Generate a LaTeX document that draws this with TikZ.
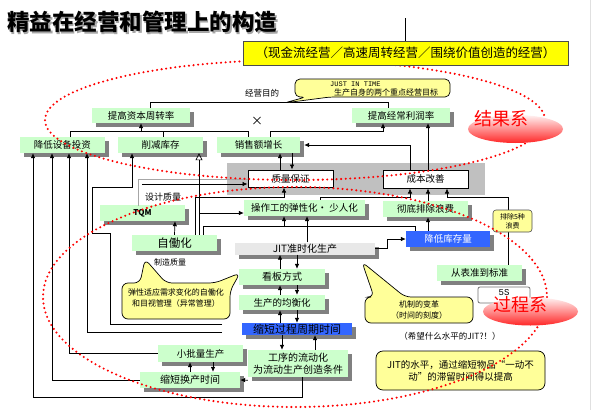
\documentclass[tikz,border=0pt]{standalone}
\usepackage{fontspec}
\setmainfont{Noto Sans CJK SC}
\newfontfamily\monofont{Liberation Mono}
\usetikzlibrary{shadows,arrows.meta,shapes.geometric}
\definecolor{boxgreen}{HTML}{CCFFCC}
\definecolor{shadowgray}{HTML}{808080}
\definecolor{calloutyellow}{HTML}{FFFF99}
\definecolor{topyellow}{HTML}{FFFF00}
\definecolor{jitblue}{HTML}{3366FF}
\definecolor{jitgray}{HTML}{E8E8E8}
\definecolor{bandgray}{HTML}{C0C0C0}
\newcommand\fs[2]{\fontsize{#1}{#2}\selectfont}
\tikzset{
 sh/.style={drop shadow={shadow xshift=4pt,shadow yshift=-4pt,fill=shadowgray,opacity=1}},
 gbox/.style={fill=boxgreen,sh,inner sep=0pt,font=\fs{9.5}{11}},
 bbox/.style={fill=jitblue,sh,inner sep=0pt},
 wbox/.style={draw=black,line width=1pt,fill=white,inner sep=0pt,font=\fs{9.5}{11}},
 arr/.style={-{Latex[length=5pt,width=4.5pt]},line width=0.7pt},
 oarr/.style={-{Triangle[open,length=7pt,width=7pt]},line width=0.7pt},
 ln/.style={line width=0.7pt},
 reddots/.style={red,line width=2.3pt,dash pattern=on 0pt off 4.6pt,line cap=round},
 call/.style={fill=calloutyellow,draw=black,line width=0.7pt,rounded corners=5pt},
 lbl/.style={inner sep=0pt},
}
\begin{document}
\begin{tikzpicture}[x=1pt,y=-1pt]
\useasboundingbox (0,0) rectangle (598,410);
\fill[white] (0,0) rectangle (598,410);
\draw[black!12,line width=0.8pt] (590,0) -- (590,410);

% title
\node[lbl,anchor=west,font=\bfseries\fs{22.5}{24},text=black!35] (titlesh) at (8.5,23.5) {精益在经营和管理上的构造};
\node[lbl,anchor=west,font=\bfseries\fs{22.5}{24}] (title) at (7,22) {精益在经营和管理上的构造};

% gray band
\node[fill=bandgray,minimum width=258pt,minimum height=32pt,inner sep=0pt] (band) at (356,179) {};

% boxes
\node[gbox,minimum width=98pt,minimum height=15pt] (ziben) at (141,115.5) {提高资本周转率};
\node[gbox,minimum width=98pt,minimum height=15pt] (jingchang) at (401,115.5) {提高经常利润率};
\node[gbox,minimum width=85pt,minimum height=16pt] (shebei) at (62.5,145) {降低设备投资};
\node[gbox,minimum width=85pt,minimum height=16pt] (kucun) at (160.5,145) {削减库存};
\node[gbox,minimum width=83pt,minimum height=16pt] (xiaoshou) at (258.5,145) {销售额增长};
\node[wbox,minimum width=85pt,minimum height=17pt] (zhiliang) at (290.5,178.5) {质量保证};
\node[wbox,minimum width=85pt,minimum height=18pt] (chengben) at (425.5,179) {成本改善};
\node[gbox,minimum width=121pt,minimum height=16pt] (caozuo) at (304.5,208) {操作工的弹性化・ 少人化};
\node[gbox,minimum width=85pt,minimum height=16pt] (chedi) at (425.5,209) {彻底排除浪费};
\node[gbox,minimum width=85pt,minimum height=16pt,font=\bfseries\fs{8}{9}] (tqm) at (142.5,213) {TQM};
\node[gbox,minimum width=85pt,minimum height=16pt,font=\fs{11.5}{13}] (zidong) at (174.5,243) {自働化};
\node[fill=jitgray,sh,inner sep=0pt,minimum width=140pt,minimum height=12pt,font=\fs{10}{11}] (jit) at (305,248.5) {JIT准时化生产};
\node[bbox,minimum width=84pt,minimum height=16pt,text=white,font=\fs{9.5}{11}] (jiangdi) at (448,239) {降低库存量};
\node[gbox,minimum width=86pt,minimum height=16pt,font=\fs{10}{11}] (kanban) at (282,277) {看板方式};
\node[gbox,minimum width=86pt,minimum height=15pt,font=\fs{9.5}{11}] (junheng) at (282,302.5) {生产的均衡化};
\node[bbox,minimum width=110pt,minimum height=12pt,font=\fs{11}{12}] (suoduan) at (297,329) {缩短过程周期时间};
\node[gbox,minimum width=100pt,minimum height=27pt,align=center,font=\fs{10}{12}] (gongxu) at (298,363.5) {工序的流动化\\为流动生产创造条件};
\node[gbox,minimum width=85pt,minimum height=17pt,font=\fs{9.5}{11}] (xiaopi) at (200.5,353.5) {小批量生产};
\node[gbox,minimum width=100pt,minimum height=16pt,font=\fs{10}{11}] (huanchan) at (190,380) {缩短换产时间};
\node[gbox,minimum width=85pt,minimum height=16pt] (biaozhun) at (479.5,273) {从表准到标准};
\node[draw=black!55,line width=0.8pt,fill=white,rounded corners=2pt,minimum width=52pt,minimum height=16pt] (fiveSbox) at (504,295) {};
\node[lbl,font=\monofont\fs{9}{10}] (fiveS) at (504,292.5) {5S};

% labels
\node[lbl,font=\fs{8.5}{10}] (jymd) at (262,93) {经营目的};
\node[lbl,font=\fs{12}{13}] (cross) at (257,121) {×};
\node[lbl,font=\fs{9}{10}] (sjzl) at (163,197) {设计质量};
\node[lbl,font=\fs{8}{9}] (zzzl) at (170,262) {制造质量};
\node[lbl,font=\fs{8.5}{10}] (xiwang) at (450,336) {（希望什么水平的JIT?！）};

% connectors top
\draw[ln] ([xshift=9pt]ziben.north) -- ++(0,-5) -| ([xshift=-13pt]jingchang.north);
\draw[ln] ([xshift=7.5pt]shebei.north) -- ++(0,-5) -| ([xshift=-10.5pt]xiaoshou.north);
\draw[ln] ([xshift=2.5pt]kucun.north) -- ++(0,-5);
\draw[arr] ([yshift=-9pt]ziben.south) -- (ziben.south);
\draw[arr] ([xshift=11.5pt]xiaoshou.north) -- ++(0,-5) -| ([xshift=-18pt]jingchang.south);
\draw[arr] ([xshift=2.5pt]chengben.north) -- ([xshift=27pt]jingchang.south);
\draw[arr] ([xshift=-15.5pt]chengben.north) |- ([xshift=4pt]xiaoshou.east);
\draw[arr] ([xshift=-10.5pt]zhiliang.north) -- ([xshift=21.5pt]xiaoshou.south);
\draw[arr] ([xshift=33.5pt]xiaoshou.south) -- ([xshift=1.5pt]zhiliang.north);

% left feedback lines
\coordinate (eE) at (222,324);
\coordinate (eD) at (222,332);
\draw[arr] (eE) -| (110,233) -| (92,187) -| ([xshift=-28.5pt]kucun.south);
\draw[arr] (eD) -| ([xshift=24.5pt]shebei.south);
\draw[arr] (xiaopi.west) -| ([xshift=6.5pt]shebei.south);
\draw[arr] (huanchan.west) -| ([xshift=-10.5pt]shebei.south);
\draw[arr] ([xshift=4pt]gongxu.south) -- ++(0,20) -| ([xshift=-29.5pt]shebei.south);

% design quality
\draw[black!35,ln] (138,206) -- (138,179) -- ([yshift=-0.5pt]zhiliang.west);
\draw[arr] (142,184) -- ([yshift=-5.5pt]zhiliang.west);

% middle
\draw[arr] (zidong.north) -- ([xshift=32.5pt]tqm.south);
\draw[arr] ([xshift=20.5pt]zidong.north) -- ++(0,-37) -| ([xshift=-6.5pt]zhiliang.south);
\draw[oarr] ([xshift=24.5pt]zidong.north) -- ([xshift=38.5pt]kucun.south);
\draw[arr] (199,213) -- ([yshift=-5pt]caozuo.west);
\draw[ln] ([xshift=28.5pt]zidong.north) -- ++(0,-8) -| ([xshift=-33pt]jiangdi.north);
\draw[arr] ([xshift=-20.5pt,yshift=-11pt]caozuo.south) -- ([xshift=-20.5pt]caozuo.south);
\draw[arr] ([xshift=2pt]jit.north) -- ([xshift=2.5pt]caozuo.south);
\draw[arr] ([xshift=15.5pt]caozuo.north) -- ++(0,-2) -| ([xshift=-15.5pt]chengben.south);
\draw[arr] ([xshift=2.5pt]chedi.north) -- ([xshift=2.5pt]chengben.south);
\draw[arr] ([xshift=28.5pt]biaozhun.north) -- ++(0,-67) -| ([xshift=21.5pt]chengben.south);
\draw[arr] ([xshift=-20pt]jiangdi.north) -- ([xshift=2.5pt]chedi.south);
\draw[arr] (jit.east) -- ++(12,0) |- (jiangdi.west);

% vertical chain
\draw[arr] ([xshift=-2pt]kanban.north) -- ([xshift=-25pt]jit.south);
\draw[arr] ([xshift=-8pt]jit.south) -- ([xshift=15pt]kanban.north);
\draw[arr] ([xshift=-2pt]junheng.north) -- ([xshift=-2pt]kanban.south);
\draw[arr] ([xshift=15pt]kanban.south) -- ([xshift=15pt]junheng.north);
\draw[arr] ([xshift=-17pt]suoduan.north) -- ([xshift=-2pt]junheng.south);
\draw[arr] ([xshift=15pt]junheng.south) -- (suoduan.north);
\draw[arr] ([xshift=-15pt]suoduan.south) -- ([xshift=-16pt]gongxu.north);
\draw[arr] ([xshift=17pt]gongxu.north) -- ([xshift=18pt]suoduan.south);
\draw[arr] (huanchan.north) -- ([xshift=-10.5pt]xiaopi.south);
\draw[arr] ([xshift=12.5pt]xiaopi.south) -- ([xshift=23pt]huanchan.north);
\draw[arr] ([yshift=-3pt]gongxu.south west) -- (huanchan.east);

% 5 wastes tag
\node[fill=calloutyellow,draw=black!70,line width=0.6pt,rounded corners=3pt,minimum width=39pt,minimum height=22pt,inner sep=0pt,align=center,font=\fs{7}{9}] (wuzhong) at (512.5,221) {排除5种\\浪费};

% callouts
\filldraw[call] (295,79) -- (450,79) -- (450,97) -- (330,97) -- (284,103) -- (306,97) -- (295,97) -- cycle;
\node[lbl,anchor=west,font=\monofont\fs{7}{8}] (jitcall1) at (330,84) {JUST IN TIME};
\node[lbl,anchor=west,font=\fs{8}{9}] (jitcall2) at (334,92.5) {生产自身的两个重点经营目标};

\filldraw[call,rounded corners=6pt] (122,283) -- (140,283) -- (145,259) -- (166,283) -- (215,283) -- (240,273) -- (230,291) -- (230,319) -- (122,319) -- cycle;
\node[lbl,align=center,font=\fs{8}{11}] (call1) at (176,298) {弹性适应需求变化的自働化\\和目视管理（异常管理）};

\filldraw[call,rounded corners=6pt] (365,297) -- (374,297) -- (362,262) -- (405,297) -- (473,297) -- (473,323) -- (365,323) -- cycle;
\node[lbl,align=center,font=\fs{8}{11}] (call2) at (419,310) {机制的变革\\（时间的刻度）};

\filldraw[call,rounded corners=7pt] (376,351) rectangle (545,390);
\node[lbl,align=center,font=\fs{9.5}{12}] (call3) at (460.5,370.5) {JIT的水平，通过缩短物品“一动不\\动”的滞留时间得以提高};

% red dotted ellipses
\draw[reddots] (295,120) ellipse [x radius=250, y radius=60];
\draw[reddots] (295,297) ellipse [x radius=252, y radius=110];

% top box
\draw[ln] (405.5,18) -- (405.5,41);
\node[fill=topyellow,draw=black!70,line width=0.8pt,minimum width=325pt,minimum height=24pt,inner sep=0pt,font=\fs{12.5}{14}] (topbox) at (405.5,53) {（现金流经营／高速周转经营／围绕价值创造的经营）};

% system labels
\node[ellipse,top color=red!5,bottom color=red!85,minimum width=95pt,minimum height=28pt,inner sep=0pt] (jgxbg) at (515.5,129) {};
\node[lbl,text=red,font=\fs{18}{20}] (jgx) at (501,119) {结果系};
\node[ellipse,top color=red!5,bottom color=red!85,minimum width=95pt,minimum height=28pt,inner sep=0pt] (gcxbg) at (530.5,311.5) {};
\node[lbl,text=red,font=\fs{18}{20}] (gcx) at (520,305) {过程系};
\end{tikzpicture}
\end{document}
